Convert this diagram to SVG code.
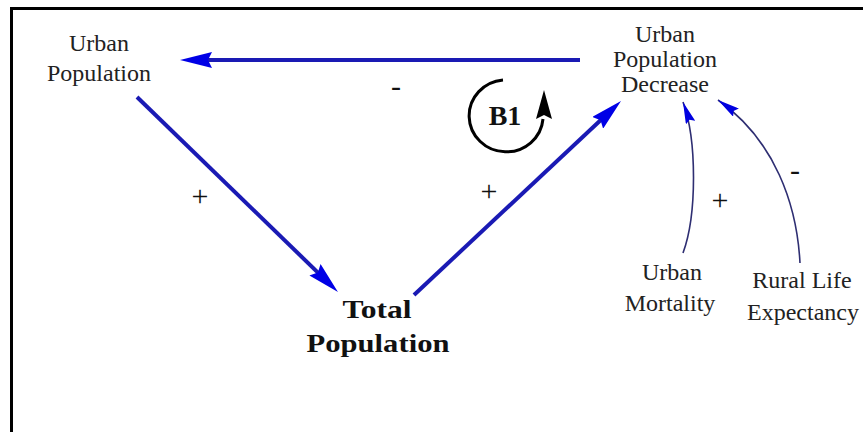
<svg xmlns="http://www.w3.org/2000/svg" width="863" height="432" viewBox="0 0 863 432">
<style>
.lbl{font-family:"Liberation Serif","Times New Roman",serif;font-size:24px;fill:#222;text-anchor:middle}
.bold{font-family:"Liberation Serif","Times New Roman",serif;font-weight:bold;fill:#111;text-anchor:middle}
.sign{font-family:"Liberation Serif","Times New Roman",serif;font-size:30px;fill:#111;text-anchor:middle}
.main{fill:none;stroke:#1a1ab4;stroke-width:4}
.thin{fill:none;stroke:#2e2e72;stroke-width:1.6}
</style>
<defs>
<marker id="big" markerUnits="userSpaceOnUse" viewBox="0 0 32 16" refX="12" refY="8" markerWidth="32" markerHeight="16" orient="auto">
<path d="M0,0 L32,8 L0,16 L4,8 z" fill="#0000e6"/>
</marker>
<marker id="small" markerUnits="userSpaceOnUse" viewBox="0 0 22 10" refX="22" refY="5" markerWidth="22" markerHeight="10" orient="auto">
<path d="M0,0 L22,5 L0,10 L3,5 z" fill="#0000e0"/>
</marker>
</defs>
<rect width="863" height="432" fill="#fff"/>
<path d="M11.5,432 V8.5 H863" fill="none" stroke="#000" stroke-width="3"/>
<g id="connectors">
<path class="main" d="M580,60 L200,60" marker-end="url(#big)"/>
<path class="main" d="M137,97 L323.6,278.1" marker-end="url(#big)"/>
<path class="main" d="M414,295 L606.4,114.7" marker-end="url(#big)"/>
<path class="thin" d="M683,253 C697,215 697,140 683,102" marker-end="url(#small)"/>
<path class="thin" d="M800,263 C797,205 775,140 718,100" marker-end="url(#small)"/>
<text class="sign" x="396" y="96">-</text>
<text class="sign" x="200" y="206">+</text>
<text class="sign" x="489" y="201">+</text>
<text class="sign" x="720" y="210">+</text>
<text class="sign" x="795" y="180">-</text>
</g>
<g id="loop-b1">
<path d="M503,80 A37,36 0 1 0 543,119" fill="none" stroke="#000" stroke-width="3"/>
<path d="M544,90 L552,119 L544,115 L536,119 z" fill="#000"/>
<text class="bold" x="505" y="125" font-size="28">B1</text>
</g>
<g id="urban-population">
<text class="lbl" x="99" y="51">Urban</text>
<text class="lbl" x="99" y="81">Population</text>
</g>
<g id="urban-population-decrease">
<text class="lbl" x="665" y="42">Urban</text>
<text class="lbl" x="665" y="67">Population</text>
<text class="lbl" x="665" y="92">Decrease</text>
</g>
<g id="total-population">
<text class="bold" x="377" y="318" font-size="26" textLength="69" lengthAdjust="spacingAndGlyphs">Total</text>
<text class="bold" x="378" y="352" font-size="26" textLength="143" lengthAdjust="spacingAndGlyphs">Population</text>
</g>
<g id="urban-mortality">
<text class="lbl" x="672" y="280">Urban</text>
<text class="lbl" x="670" y="311">Mortality</text>
</g>
<g id="rural-life-expectancy">
<text class="lbl" x="802" y="288">Rural Life</text>
<text class="lbl" x="803" y="320">Expectancy</text>
</g>
</svg>
